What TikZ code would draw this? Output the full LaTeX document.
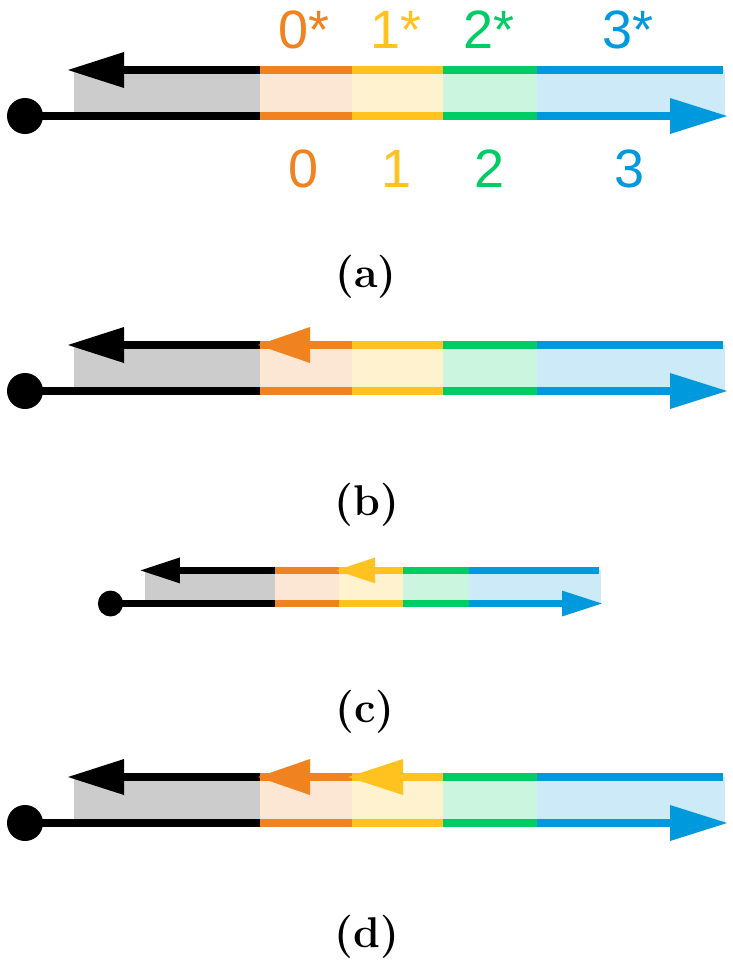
\documentclass[tikz,border=0pt]{standalone}
\usepackage{fontspec}
\newfontfamily\arialfont{Liberation Sans}
\definecolor{cOr}{RGB}{240,130,32}
\definecolor{cYe}{RGB}{255,194,30}
\definecolor{cGr}{RGB}{0,204,102}
\definecolor{cBl}{RGB}{0,153,221}
\definecolor{fGy}{RGB}{204,204,204}
\definecolor{fOr}{RGB}{252,230,212}
\definecolor{fYe}{RGB}{255,242,206}
\definecolor{fGr}{RGB}{204,245,224}
\definecolor{fBl}{RGB}{204,234,248}
\tikzset{
  numlab/.style={anchor=base, inner sep=0pt, font=\arialfont\fontsize{54}{60}\selectfont},
  caplab/.style={inner sep=0pt, font=\fontsize{43}{47}\selectfont\bfseries},
  seg/.style={line cap=butt}
}
\newcommand\panelbase[1]{%
  \fill[fGy] (74,70) rectangle (260,116);
  \fill[fOr] (260,70) rectangle (352,116);
  \fill[fYe] (352,70) rectangle (443,116);
  \fill[fGr] (443,70) rectangle (537,116);
  \fill[fBl] (537,70) rectangle (725,116);
  \begin{scope}[line width=#1, seg]
    \draw[black] (120,70) -- (260,70);
    \draw[cOr] (260,70) -- (352,70);
    \draw[cYe] (352,70) -- (443,70);
    \draw[cGr] (443,70) -- (537,70);
    \draw[cBl] (537,70) -- (723,70);
    \draw[black] (25,116) -- (260,116);
    \draw[cOr] (260,116) -- (352,116);
    \draw[cYe] (352,116) -- (443,116);
    \draw[cGr] (443,116) -- (537,116);
    \draw[cBl] (537,116) -- (675,116);
  \end{scope}
  \fill[black] (68,70) -- (124,52) -- (124,88) -- cycle;
  \fill[cBl] (727,116) -- (670,98) -- (670,134) -- cycle;
  \fill[black] (25,116) circle[radius=18];
}
\newcommand\orangehead{\fill[cOr] (258,70) -- (310,52) -- (310,88) -- cycle;}
\newcommand\yellowhead{\fill[cYe] (348,70) -- (403,52) -- (403,88) -- cycle;}
\begin{document}
\begin{tikzpicture}[x=1pt, y=-1pt]
\useasboundingbox (0,0) rectangle (733,970);
% panel (a)
\begin{scope}
  \panelbase{8.5pt}
\end{scope}
\node[numlab, cOr] (t0) at (304,48) {0*};
\node[numlab, cYe] (t1) at (396,48) {1*};
\node[numlab, cGr] (t2) at (489,48) {2*};
\node[numlab, cBl] (t3) at (628,48) {3*};
\node[numlab, cOr] (b0) at (304,187) {0};
\node[numlab, cYe] (b1) at (397,187) {1};
\node[numlab, cGr] (b2) at (490,187) {2};
\node[numlab, cBl] (b3) at (630,187) {3};
\node[caplab] (capa) at (366,277) {(a)};
% panel (b)
\begin{scope}[shift={(0,275)}]
  \panelbase{8.5pt}
  \orangehead
\end{scope}
\node[caplab] (capb) at (367,505) {(b)};
% panel (c)
\begin{scope}[shift={(93,520)}, xscale=0.7, yscale=0.72]
  \panelbase{6.5pt}
  \yellowhead
\end{scope}
\node[caplab] (capc) at (365,712) {(c)};
% panel (d)
\begin{scope}[shift={(0,707)}]
  \panelbase{8.5pt}
  \orangehead
  \yellowhead
\end{scope}
\node[caplab] (capd) at (367,937) {(d)};
\end{tikzpicture}
\end{document}
